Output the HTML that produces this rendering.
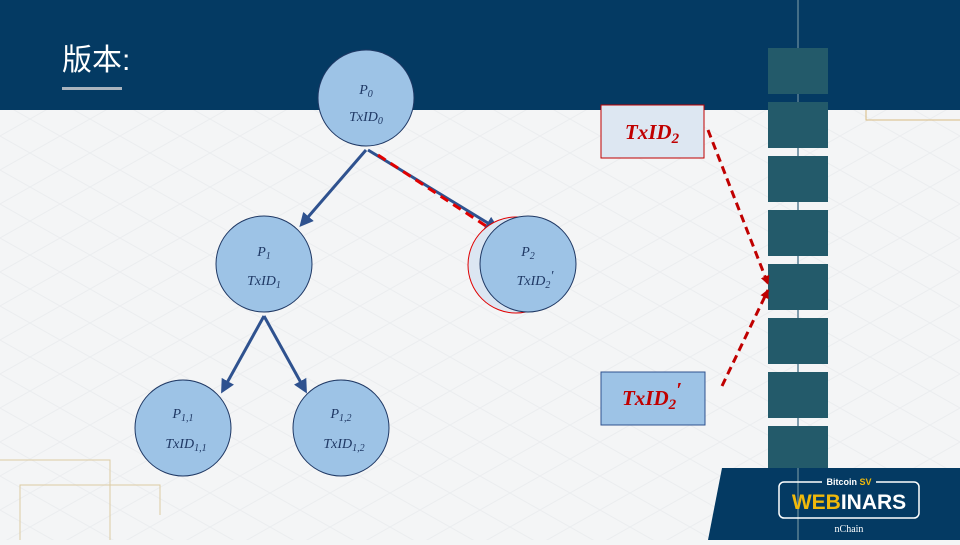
<!DOCTYPE html>
<html><head><meta charset="utf-8"><style>
body{margin:0;width:960px;height:540px;overflow:hidden;background:#f4f5f6;font-family:"Liberation Sans","Noto Sans CJK SC",sans-serif}
</style></head><body>
<svg width="960" height="540" viewBox="0 0 960 540" xmlns="http://www.w3.org/2000/svg">
<defs>
<marker id="a" markerWidth="14" markerHeight="14" refX="10" refY="7" orient="auto" markerUnits="userSpaceOnUse" viewBox="0 0 14 14"><path d="M0,0 L14,7 L0,14z" fill="#2F528F"/></marker>
<marker id="ar" markerWidth="9" markerHeight="9" refX="8" refY="4.5" orient="auto" markerUnits="userSpaceOnUse" viewBox="0 0 9 9"><path d="M0,0 L9,4.5 L0,9z" fill="#C00000"/></marker>
<pattern id="g" width="60" height="34" patternUnits="userSpaceOnUse"><path d="M0,0 L60,34 M60,0 L0,34" stroke="#ebedef" stroke-width="1"/></pattern>
</defs>
<rect width="960" height="540" fill="url(#g)"/>
<rect width="960" height="110" fill="#043A63"/>
<text x="62" y="70" fill="#fff" font-size="30" font-family="Liberation Sans,Noto Sans CJK SC,sans-serif">版本:</text>
<rect x="62" y="87" width="60" height="3" fill="#aab4be"/>
<line x1="798" y1="0" x2="798" y2="540" stroke="#5a7f93" stroke-width="1.5"/>
<path d="M866,110 V120 H960" fill="none" stroke="#d9bb82" stroke-width="1"/>
<path d="M0,460 H110 V540 M20,540 V485 H160 V515" fill="none" stroke="#dccaa2" stroke-width="1"/>
<g fill="#235A6A">
<rect x="768" y="48" width="60" height="46"/><rect x="768" y="102" width="60" height="46"/>
<rect x="768" y="156" width="60" height="46"/><rect x="768" y="210" width="60" height="46"/>
<rect x="768" y="264" width="60" height="46"/><rect x="768" y="318" width="60" height="46"/>
<rect x="768" y="372" width="60" height="46"/><rect x="768" y="426" width="60" height="46"/>
</g>
<path d="M722,468 H960 V540 H708z" fill="#043A63"/>
<line x1="798" y1="468" x2="798" y2="540" stroke="#5a7f93" stroke-width="1.5"/>
<rect x="779" y="482" width="140" height="36" rx="5" fill="none" stroke="#fff" stroke-width="1.5"/>
<rect x="822" y="476" width="54" height="10" fill="#043A63"/>
<text x="849" y="485" fill="#fff" font-size="9" font-weight="bold" text-anchor="middle">Bitcoin <tspan fill="#F0B90B">SV</tspan></text>
<text x="849" y="509" fill="#fff" font-size="21" font-weight="bold" text-anchor="middle"><tspan fill="#F0B90B">WEB</tspan>INARS</text>
<text x="849" y="532" fill="#fff" font-size="10" font-family="Liberation Serif,serif" text-anchor="middle">nChain</text>
<g stroke="#2F528F" stroke-width="3" marker-end="url(#a)">
<line x1="366" y1="150" x2="302" y2="224"/>
<line x1="368" y1="150" x2="496" y2="228"/>
<line x1="264" y1="316" x2="223" y2="390"/>
<line x1="264" y1="316" x2="305" y2="390"/>
</g>
<line x1="378" y1="155" x2="486" y2="226" stroke="#E00000" stroke-width="3" stroke-dasharray="9,6"/>
<circle cx="516" cy="265" r="48" fill="#dce6f2" stroke="#E00000" stroke-width="1"/>
<g fill="#9DC3E6" stroke="#1F3864" stroke-width="1">
<circle cx="366" cy="98" r="48"/><circle cx="264" cy="264" r="48"/><circle cx="528" cy="264" r="48"/>
<circle cx="183" cy="428" r="48"/><circle cx="341" cy="428" r="48"/>
</g>
<g fill="#1F3864" font-family="Liberation Serif,serif" font-style="italic" font-size="14" text-anchor="middle">
<text x="366" y="94">P<tspan font-size="10" dy="3">0</tspan></text><text x="366" y="121">TxID<tspan font-size="10" dy="3">0</tspan></text>
<text x="264" y="256">P<tspan font-size="10" dy="3">1</tspan></text><text x="264" y="285">TxID<tspan font-size="10" dy="3">1</tspan></text>
<text x="528" y="256">P<tspan font-size="10" dy="3">2</tspan></text><text x="535" y="285">TxID<tspan font-size="10" dy="3">2</tspan><tspan dy="-8">′</tspan></text>
<text x="183" y="418">P<tspan font-size="10" dy="3">1,1</tspan></text><text x="186" y="448">TxID<tspan font-size="10" dy="3">1,1</tspan></text>
<text x="341" y="418">P<tspan font-size="10" dy="3">1,2</tspan></text><text x="344" y="448">TxID<tspan font-size="10" dy="3">1,2</tspan></text>
</g>
<rect x="601" y="105" width="103" height="53" fill="#dde7f2" stroke="#C00000" stroke-width="1"/>
<rect x="601" y="372" width="104" height="53" fill="#9DC3E6" stroke="#2F528F" stroke-width="1"/>
<g fill="#C00000" font-family="Liberation Serif,serif" font-style="italic" font-weight="bold" font-size="21" text-anchor="middle">
<text x="652" y="139">TxID<tspan font-size="15" dy="4">2</tspan></text>
<text x="652" y="405">TxID<tspan font-size="15" dy="4">2</tspan><tspan dy="-12">′</tspan></text>
</g>
<g stroke="#C00000" stroke-width="3" stroke-dasharray="8,5" marker-end="url(#ar)">
<line x1="708" y1="130" x2="768" y2="284"/>
<line x1="722" y1="386" x2="768" y2="290"/>
</g>
</svg>
</body></html>
